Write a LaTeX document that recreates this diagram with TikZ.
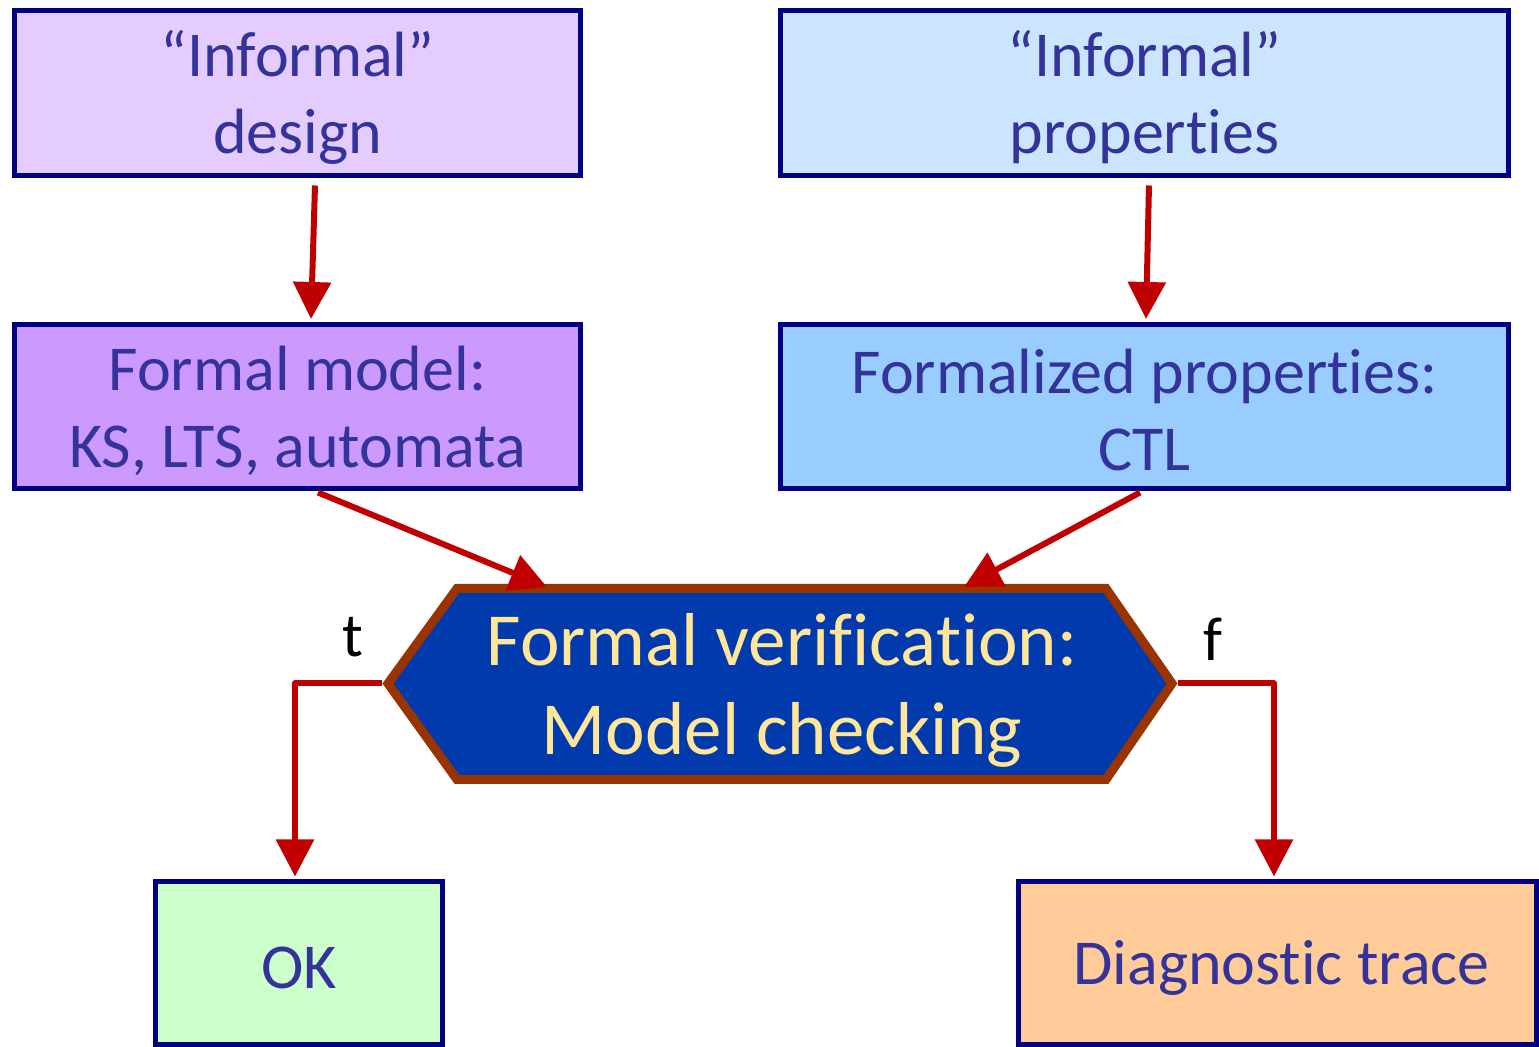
\documentclass[tikz,border=0pt]{standalone}
\usepackage{fontspec}
\setmainfont{Carlito}[Ligatures={NoCommon}]
\usetikzlibrary{arrows.meta,calc}
\definecolor{boxtext}{HTML}{333399}
\definecolor{boxline}{HTML}{000080}
\definecolor{fdesign}{HTML}{E5CCFF}
\definecolor{fmodel}{HTML}{CC99FF}
\definecolor{fiprops}{HTML}{CCE5FF}
\definecolor{ffprops}{HTML}{99CCFF}
\definecolor{fok}{HTML}{CCFFCC}
\definecolor{fdiag}{HTML}{FFCC99}
\definecolor{arrred}{HTML}{C00000}
\definecolor{hexfill}{HTML}{003AAD}
\definecolor{hexline}{HTML}{993300}
\definecolor{hextext}{HTML}{FFE699}
\tikzset{
  box/.style={draw=boxline, line width=2.5pt, inner sep=0pt},
  boxtxt/.style={inner sep=0pt, align=center, text=boxtext,
    font=\fontsize{32}{38.5}\selectfont},
  arr/.style={draw=arrred, line width=3pt, line join=round,
    -{Triangle[length=18.5pt,width=18.5pt]}},
  lbl/.style={font=\fontsize{31}{37.5}\selectfont, text=black, inner sep=0pt, anchor=base},
  hex/.style={draw=hexline, fill=hexfill, line width=4.5pt, line join=miter}
}
\begin{document}
\begin{tikzpicture}[x=0.5pt,y=-0.5pt]
\useasboundingbox (0,0) rectangle (1539,1047);
% boxes
\node[box, fill=fdesign, minimum width=283pt, minimum height=82.5pt] (design) at (297.5,93) {};
\node[box, fill=fmodel, minimum width=283pt, minimum height=82pt] (model) at (297.5,406.5) {};
\node[box, fill=fiprops, minimum width=364pt, minimum height=82.5pt] (iprops) at (1144.5,93) {};
\node[box, fill=ffprops, minimum width=364pt, minimum height=82pt] (fprops) at (1144.5,406.5) {};
\node[box, fill=fok, minimum width=143.5pt, minimum height=81.5pt] (ok) at (299,963) {};
\node[box, fill=fdiag, minimum width=259pt, minimum height=81.5pt] (diag) at (1277.5,963) {};
\node[boxtxt] (designtxt) at ($(design)+(0,4)$) {“Informal”\\design};
\node[boxtxt] (modeltxt) at ($(model)+(0,4)$) {Formal model:\\KS, LTS, automata};
\node[boxtxt] (ipropstxt) at ($(iprops)+(0,4)$) {“Informal”\\properties};
\node[boxtxt] (fpropstxt) at ($(fprops)+(0,4)$) {Formalized properties:\\CTL};
\node[boxtxt] (oktxt) at ($(ok)+(0,5)$) {OK};
\node[boxtxt] (diagtxt) at ($(diag)+(4,5)$) {Diagnostic trace};
% hexagon
\coordinate (hTL) at (457,588.5);
\coordinate (hTR) at (1106,588.5);
\coordinate (hL) at (388,683.5);
\coordinate (hR) at (1172,683.5);
\coordinate (hBL) at (457,779.5);
\coordinate (hBR) at (1106,779.5);
\coordinate (hLo) at (382,683.5);
\coordinate (hRo) at (1178,683.5);
\coordinate (tipL) at (547,587);
\coordinate (tipR) at (964,587);
% branch connectors
\draw[arr] (hLo) -- (295,683.5) -- ($(ok.north)+(-4,-2.5)$);
\draw[arr] (hRo) -- (1274,683.5) -- ($(diag.north)+(-3.5,-2.5)$);
\draw[hex] (hTL) -- (hTR) -- (hR) -- (hBR) -- (hBL) -- (hL) -- cycle;
\node[align=center, text=hextext, inner sep=0pt, font=\fontsize{37.5}{44.5}\selectfont] (mc) at (782,690) {Formal verification:\\Model checking};
% vertical arrows
\draw[arr] ($(design.south)+(17.5,7.5)$) -- ($(model.north)+(13.5,-3)$);
\draw[arr] ($(iprops.south)+(4.5,7.5)$) -- ($(fprops.north)+(1.5,-3)$);
% diagonal arrows
\draw[arr] ($(model.south)+(20.5,1.5)$) -- (tipL);
\draw[arr] ($(fprops.south)+(-4.5,1.5)$) -- (tipR);
% labels
\node[lbl] (tlbl) at (353,657) {t};
\node[lbl] (flbl) at (1213,661) {f};
\end{tikzpicture}
\end{document}
